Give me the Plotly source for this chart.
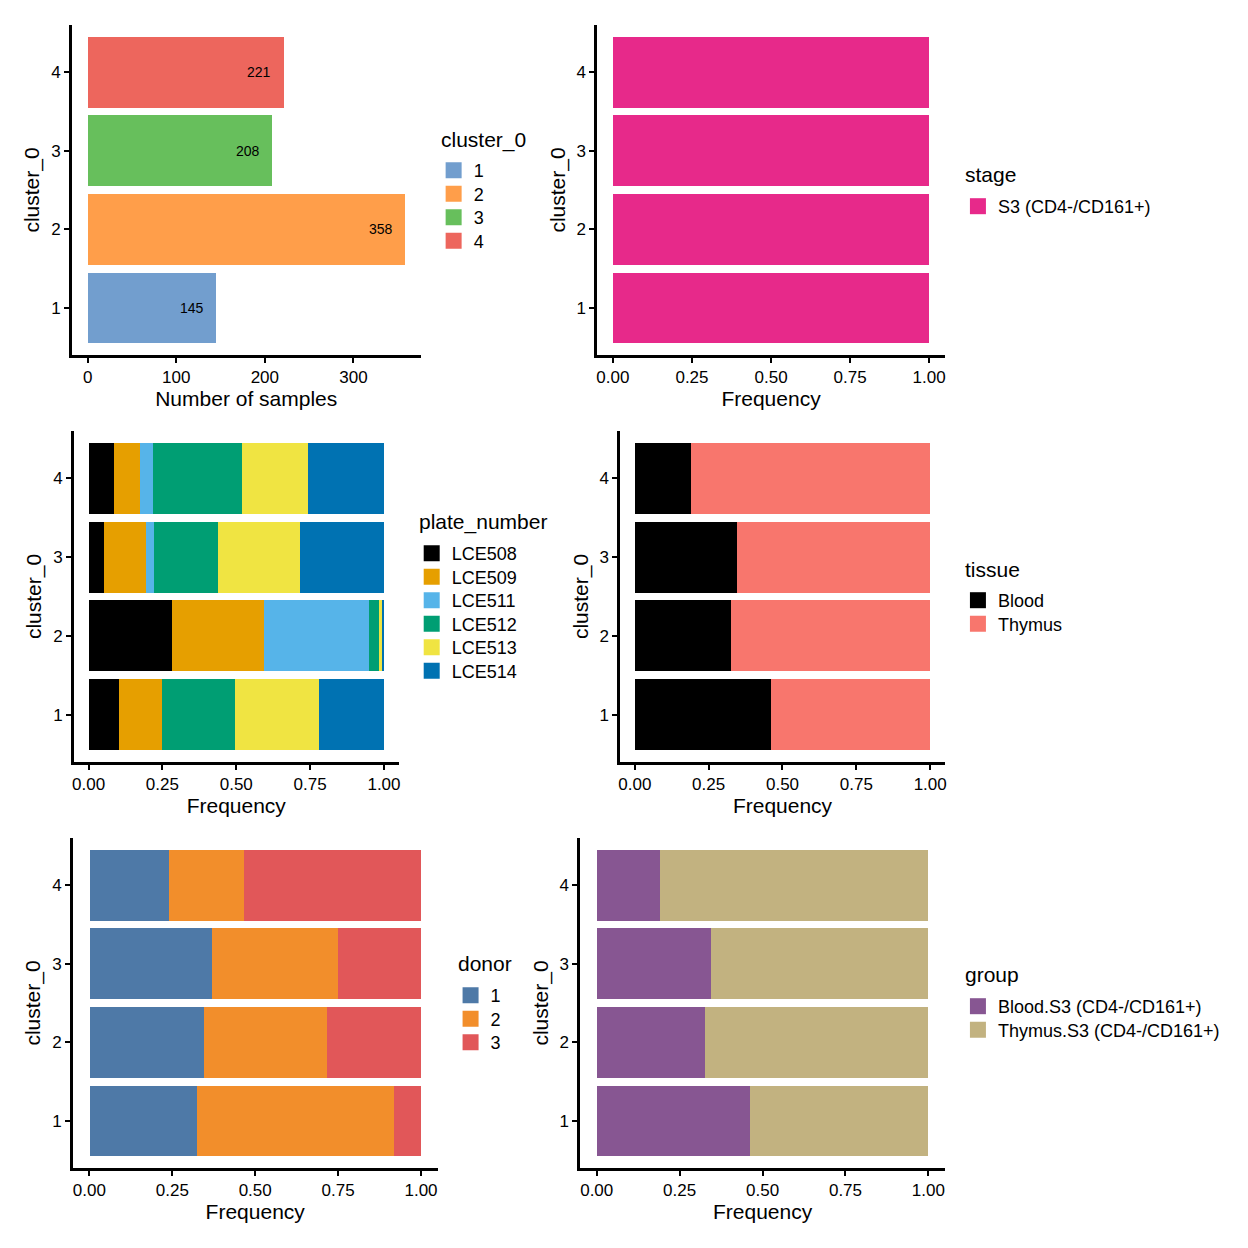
import plotly.graph_objects as go

# page has an 8px body margin, so the figure is 1240 px and offsets are applied
OFF = 8
W = H = 1240
FONT = "Liberation Sans, Arial, Helvetica, sans-serif"

clusters = [1, 2, 3, 4]
cluster_labels = ["1", "2", "3", "4"]
cluster_counts = [145, 358, 208, 221]
cluster_colors = ["#729ECE", "#FF9E4A", "#67BF5C", "#ED665D"]

stage_names = ["S3 (CD4-/CD161+)"]
stage_counts = {"S3 (CD4-/CD161+)": [145, 358, 208, 221]}
stage_colors = ["#E7298A"]

plate_names = ["LCE508", "LCE509", "LCE511", "LCE512", "LCE513", "LCE514"]
plate_counts = {
    "LCE508": [15, 101, 11, 19],
    "LCE509": [21, 111, 29, 19],
    "LCE511": [0, 128, 6, 10],
    "LCE512": [36, 12, 45, 67],
    "LCE513": [41, 3, 58, 49],
    "LCE514": [32, 3, 59, 57],
}
plate_colors = ["#000000", "#E69F00", "#56B4E9", "#009E73", "#F0E442", "#0072B2"]

tissue_names = ["Blood", "Thymus"]
tissue_counts = {"Blood": [67, 117, 72, 42], "Thymus": [78, 241, 136, 179]}
tissue_colors = ["#000000", "#F8766D"]

donor_names = ["1", "2", "3"]
donor_counts = {"1": [47, 123, 77, 53], "2": [86, 133, 79, 50], "3": [12, 102, 52, 118]}
donor_colors = ["#4E79A7", "#F28E2B", "#E15759"]

group_names = ["Blood.S3 (CD4-/CD161+)", "Thymus.S3 (CD4-/CD161+)"]
group_counts = {"Blood.S3 (CD4-/CD161+)": [67, 117, 72, 42],
                "Thymus.S3 (CD4-/CD161+)": [78, 241, 136, 179]}
group_colors = ["#875692", "#C2B280"]


def fx(px):
    return (px - OFF) / W


def fy(py):
    return 1 - (py - OFF) / H


# panel pixel boxes (x0, x1, y0, y1) in page pixels
boxes = [
    (70, 420, 25, 355),
    (597, 946, 25, 355),
    (72, 398, 431, 762),
    (620, 946, 431, 762),
    (71, 437, 838, 1168),
    (580, 946, 838, 1168),
]

# (title, title-left px, title-center px, swatch-center x px, first-item center y px)
legend_pos = [
    ("cluster_0", 441, 140, 453, 171),
    ("stage", 967, 175, 979, 207),
    ("plate_number", 419, 522, 431, 554),
    ("tissue", 967, 569, 979, 601),
    ("donor", 458, 963, 470, 996),
    ("group", 967, 975, 979, 1007),
]
ITEM_STEP = 23.5
LEG_FONT = 18

fig = go.Figure()
layout = dict(
    width=W, height=H, margin=dict(l=0, r=0, t=0, b=0),
    paper_bgcolor="white", plot_bgcolor="white",
    barmode="stack", bargap=0,
    font=dict(family=FONT, color="black"),
)
annotations = []
legend_counter = [0]


def ax_name(i, kind):
    return kind if i == 1 else f"{kind}{i}"


def add_legend_items(i, names, colors):
    title, tx, ty, sx, iy = legend_pos[i - 1]
    annotations.append(dict(
        x=fx(tx - 3), y=fy(ty), xref="paper", yref="paper", text=title,
        showarrow=False, xanchor="left", yanchor="middle",
        font=dict(size=21, family=FONT, color="black")))
    for k, (n, col) in enumerate(zip(names, colors)):
        legend_counter[0] += 1
        lid = legend_counter[0]
        lname = "legend" if lid == 1 else f"legend{lid}"
        fig.add_trace(go.Scatter(
            x=[None], y=[None], mode="markers", name=n,
            marker=dict(symbol="square", size=16, color=col, line=dict(width=0)),
            xaxis=ax_name(i, "x"), yaxis=ax_name(i, "y"),
            legend=lname, showlegend=True, hoverinfo="skip"))
        cy = iy + k * ITEM_STEP
        layout[lname] = dict(
            x=fx(sx - 20), y=fy(cy - 19), xanchor="left", yanchor="top",
            xref="paper", yref="paper",
            font=dict(size=LEG_FONT, family=FONT, color="black"),
            bgcolor="rgba(0,0,0,0)", borderwidth=0,
            itemwidth=30, tracegroupgap=0, traceorder="normal",
        )


# Panel 1: counts
for k, c in enumerate(clusters):
    fig.add_trace(go.Bar(
        x=[cluster_counts[k]], y=[c], orientation="h", width=0.9,
        marker=dict(color=cluster_colors[k], line=dict(width=0)),
        xaxis="x", yaxis="y", showlegend=False, name=cluster_labels[k]))
add_legend_items(1, cluster_labels, cluster_colors)

for k, c in enumerate(clusters):
    annotations.append(dict(
        x=cluster_counts[k], y=c, xref="x", yref="y", text=str(cluster_counts[k]),
        showarrow=False, xanchor="right", yanchor="middle", xshift=-10,
        font=dict(size=14, color="black", family=FONT)))


def add_stack(i, names, counts, colors):
    for n, col in zip(names, colors):
        freq = [counts[n][j] / cluster_counts[j] for j in range(len(clusters))]
        fig.add_trace(go.Bar(
            x=freq, y=clusters, orientation="h", width=0.9,
            marker=dict(color=col, line=dict(width=0)),
            xaxis=ax_name(i, "x"), yaxis=ax_name(i, "y"),
            showlegend=False, name=n))
    add_legend_items(i, names, colors)


add_stack(2, stage_names, stage_counts, stage_colors)
add_stack(3, plate_names, plate_counts, plate_colors)
add_stack(4, tissue_names, tissue_counts, tissue_colors)
add_stack(5, donor_names, donor_counts, donor_colors)
add_stack(6, group_names, group_counts, group_colors)

axis_common = dict(
    showline=True, linecolor="black", linewidth=2.5,
    ticks="outside", ticklen=5, tickwidth=2, tickcolor="black",
    showgrid=False, zeroline=False, mirror=False,
    tickfont=dict(size=17, color="black", family=FONT),
)

for i, (x0, x1, y0, y1) in enumerate(boxes, start=1):
    xd = [fx(x0), fx(x1)]
    yd = [fy(y1), fy(y0)]
    xa = dict(axis_common, domain=xd, anchor=ax_name(i, "y"),
              title=dict(text="Number of samples" if i == 1 else "Frequency",
                         font=dict(size=21, family=FONT), standoff=4))
    if i == 1:
        xa.update(range=[-17.9, 375.9], tickvals=[0, 100, 200, 300])
    else:
        xa.update(range=[-0.05, 1.05], tickvals=[0, 0.25, 0.5, 0.75, 1.0],
                  ticktext=["0.00", "0.25", "0.50", "0.75", "1.00"])
    ya = dict(axis_common, domain=yd, anchor=ax_name(i, "x"),
              range=[0.4, 4.6], tickvals=clusters, ticktext=cluster_labels,
              title=dict(text="cluster_0", font=dict(size=21, family=FONT), standoff=6))
    layout["xaxis" if i == 1 else f"xaxis{i}"] = xa
    layout["yaxis" if i == 1 else f"yaxis{i}"] = ya

layout["annotations"] = annotations
fig.update_layout(**layout)
fig.write_html("out.html")
